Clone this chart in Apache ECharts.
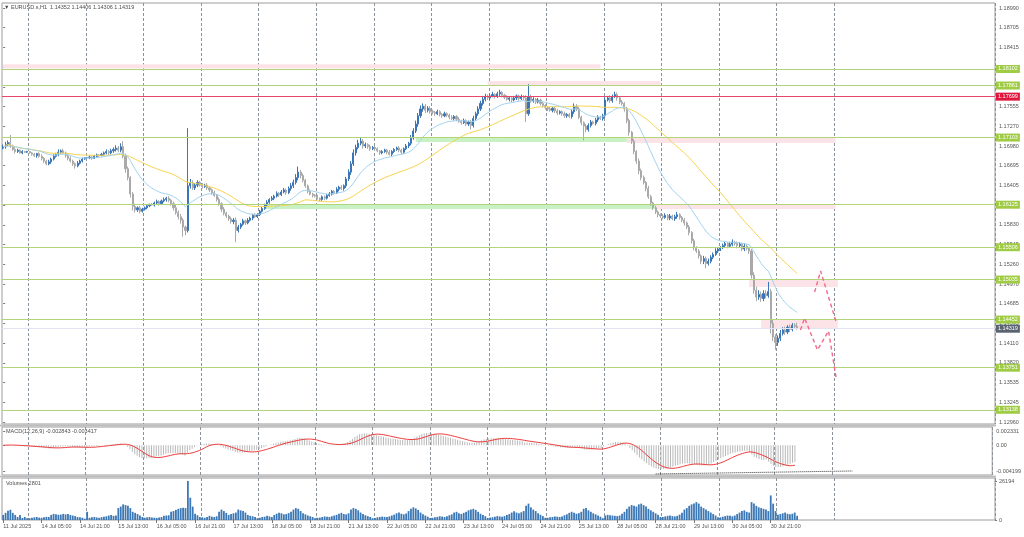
<!DOCTYPE html>
<html><head><meta charset="utf-8">
<script src="https://cdn.jsdelivr.net/npm/echarts@6/dist/echarts.min.js"></script>
<style>html,body{margin:0;padding:0;background:#fff}#c{width:1024px;height:537px}</style>
</head><body><div id="c"></div><script>
// EURUSD.s H1, 11 Jul 2025 13:00 .. 31 Jul 2025 08:00. Prices in pips above 1.10000 (697 -> 1.16970)
const firstOpenPips = 695;
const closePips = [
697,700,703,698,693,690,692,688,690,689,690,
688,686,684,687,683,680,676,672,675,679,683,686,689,691,688,684,680,676,672,669,673,676,679,681,
681,682,680,683,685,684,686,688,690,688,691,693,695,692,697,683,665,652,628,610,605,608,603,606,
608,611,613,612,615,617,614,618,620,622,619,614,608,601,595,590,580,575,640,644,637,641,645,641,
639,641,637,634,630,626,620,614,606,600,596,592,588,590,575,580,584,589,586,590,593,597,595,598,
603,607,612,616,620,622,625,629,627,631,634,630,636,640,645,652,660,655,648,640,632,628,626,625,
622,620,624,622,626,628,632,630,635,638,636,640,650,660,672,688,696,702,705,698,700,697,694,696,
694,691,688,690,692,689,686,690,693,695,692,689,694,698,702,710,720,730,742,752,756,750,753,748,
747,745,748,744,742,745,743,740,738,741,737,734,732,735,730,733,728,738,745,752,760,766,770,768,
771,773,770,774,776,772,769,766,768,765,768,771,767,770,768,745,770,764,766,762,765,760,757,754,
752,750,753,749,746,748,745,742,744,741,748,756,752,740,732,727,722,728,733,731,736,740,738,742,
765,768,764,770,773,768,762,760,752,735,718,705,690,676,662,652,645,636,624,615,608,602,598,596,
594,597,593,596,592,595,598,594,590,586,580,572,560,550,545,538,530,534,527,530,536,540,545,548,
550,553,556,552,555,558,556,553,555,548,552,549,545,510,488,478,482,476,483,480,486,440,420,412,
418,425,430,427,434,431,437,435.2,431.9];
// upper / lower wick length beyond the candle body, pips
const wickUp = [
3,4,3,11,2,3,2,1,2,1,1,
1,1,2,1,2,3,2,2,3,2,3,2,4,2,3,2,2,3,2,2,3,2,2,1,
1,2,1,2,2,1,2,2,3,2,3,3,4,3,5,8,4,3,2,3,4,2,3,2,
2,2,1,2,2,3,2,2,3,2,3,2,3,4,3,4,3,2,84,6,4,3,3,2,
3,2,3,2,2,3,2,3,2,3,2,2,3,3,4,3,2,3,2,3,2,2,3,2,
2,3,2,3,2,3,2,3,2,3,3,2,3,4,4,5,8,3,3,2,2,3,2,2,
2,1,2,2,2,3,2,2,3,2,3,2,3,4,4,5,4,5,6,3,3,2,3,2,
2,2,1,2,2,2,3,2,2,2,3,2,2,3,2,4,4,5,4,5,4,3,3,3,
3,2,3,2,2,3,2,2,3,2,2,3,2,3,2,2,3,4,3,4,4,5,4,3,
3,4,2,3,4,2,2,3,2,2,3,2,2,3,2,4,18,3,3,2,3,2,2,2,
2,3,2,2,3,2,2,3,2,2,3,4,3,3,2,2,3,3,3,2,3,3,2,3,
4,3,4,3,4,3,2,3,2,3,3,2,3,2,4,3,3,2,4,3,2,3,2,2,
3,3,2,3,2,3,4,2,2,3,2,3,2,3,2,3,2,4,3,4,3,3,4,3,
2,3,3,2,3,4,2,3,3,2,4,3,2,3,4,5,6,4,5,5,14,4,5,4,
4,5,4,5,3,4,3,3,5.4];
const wickDown = [
2,3,2,3,2,3,2,1,2,1,1,
1,2,2,3,2,3,3,2,2,3,2,2,3,2,2,3,3,2,3,4,2,2,2,1,
1,2,2,1,2,2,1,2,2,3,2,3,3,3,3,3,6,4,5,6,4,3,3,2,
2,2,2,1,2,2,3,2,2,3,3,3,4,3,4,5,14,7,3,4,3,3,3,2,
3,2,3,3,3,2,3,3,4,3,3,3,3,4,17,3,3,2,3,2,2,3,2,2,
2,2,2,3,2,2,3,2,3,2,2,3,2,3,3,3,4,4,3,3,3,2,3,2,
2,3,2,3,2,2,2,3,2,3,2,3,3,3,4,3,4,3,3,4,3,3,3,2,
3,2,3,2,2,3,2,3,2,2,3,3,2,2,3,3,3,3,4,3,4,4,3,3,
3,3,2,3,3,2,3,3,2,3,3,2,3,2,3,3,6,3,3,3,3,3,3,3,
3,2,3,2,3,3,3,2,3,3,2,3,3,2,3,12,3,3,3,3,2,3,3,3,
3,2,3,3,3,2,3,3,3,2,3,3,3,3,4,21,4,3,3,2,3,3,2,3,
3,2,3,3,2,4,3,3,4,4,5,4,4,4,5,4,3,4,3,4,3,3,4,3,
3,2,3,3,2,3,3,3,3,4,3,4,4,4,3,4,4,4,7,3,3,3,2,3,
3,2,3,3,2,3,3,4,3,3,3,3,4,5,5,6,4,5,4,4,3,15,6,11,
5,4,3,4,3,4,3,3,1.3];
const volumes = [
3400,4800,6200,6900,4800,3400,2000,3400,1400,2000,1200,
1200,1500,1800,2000,1600,1500,1800,2100,2000,3400,4100,3800,3500,3600,4100,3800,4000,3400,3000,2600,2000,1800,1500,900,
5500,1500,1800,2000,1700,1500,1900,2200,2500,3000,3400,2800,3000,8000,9000,10500,10000,9500,8000,5500,4800,4000,3000,2000,
1500,1800,2000,1600,1500,1400,1700,2000,2800,3000,3200,5500,6000,6800,7500,8000,8200,8000,26194,15000,9000,4200,3200,2000,
1800,1500,2000,2800,2200,2000,2500,5500,7000,6000,4800,3400,4000,4500,5000,7000,6500,6000,5000,3400,2800,2500,2000,1200,
1500,2000,2200,2800,2400,2000,3400,4200,4800,4500,3800,4000,4600,5500,7000,8000,7500,6000,4500,3800,3000,2500,2000,1200,
1500,1600,2000,2400,2200,2000,2500,3000,3500,4200,4800,4000,3800,4500,7000,8000,7500,6500,5000,4000,3200,2600,2000,1200,
1400,1800,2000,2300,2100,2000,2400,3000,3600,4500,5000,4200,3800,4400,6000,7500,8500,7800,6800,5000,3800,3000,2200,1300,
1500,1800,2100,2500,2300,2000,2500,3200,3800,5000,5500,4600,4000,4800,5500,6500,7000,7500,6800,5500,4200,3400,2500,1400,
1600,1900,2200,2600,2400,2200,2600,3400,4000,5000,5800,5000,4500,5200,6000,9500,11000,8500,7000,6000,4500,3500,2600,1500,
1500,1800,2000,2400,2200,2000,2400,3200,3800,4800,5500,4800,4200,4600,5500,7500,8000,6500,5500,4500,3800,3000,2200,1200,
3000,3500,3200,3000,2800,2600,3000,4200,5500,7500,9000,10000,9500,9000,10500,11000,10000,9000,7500,6500,5500,4500,3500,2000,
2000,2400,2800,3000,2600,2400,2800,3600,4800,7000,8000,9500,10500,11000,12000,11000,9000,8000,7000,6000,5000,4000,3000,1800,
1800,2200,2600,3000,2800,2500,3000,4000,5000,6000,6500,5500,5000,12000,11000,9500,8500,8000,7500,7000,6000,16500,11000,6000,
3500,4000,4500,5000,4200,3800,4200,5000,2801];
const priceTicks = [1.12960,1.13245,1.13535,1.13820,1.14110,1.14395,1.14685,1.14970,1.15260,1.15545,1.15830,1.16120,1.16405,1.16695,1.16980,1.17270,1.17555,1.17840,1.18130,1.18415,1.18705,1.18990];
const xTickLabels = ['11 Jul 2025','14 Jul 05:00','14 Jul 21:00','15 Jul 13:00','16 Jul 05:00','16 Jul 21:00','17 Jul 13:00','18 Jul 05:00','18 Jul 21:00','21 Jul 13:00','22 Jul 05:00','22 Jul 21:00','23 Jul 13:00','24 Jul 05:00','24 Jul 21:00','25 Jul 13:00','28 Jul 05:00','28 Jul 21:00','29 Jul 13:00','30 Jul 05:00','30 Jul 21:00'];
const greenLevels = [1.18102,1.17861,1.17103,1.16125,1.15506,1.15035,1.14452,1.13751,1.13138];
const redLevel = 1.17699;
const lastPrice = 1.14319;
const macdTicks = [-0.004199, 0, 0.002331];
const volumeTicks = [0, 26194];
// zones: [bar from, bar to, price low, price high, kind]
const zones = [
 [0,249,1.18110,1.18170,'p'],
 [202,274,1.17869,1.17927,'p'],
 [172,260,1.17039,1.17112,'g'],
 [260,347,1.17025,1.17112,'p'],
 [109,273,1.16063,1.16136,'g'],
 [272,347,1.16063,1.16136,'p'],
 [311,348,1.14927,1.15029,'p'],
 [316,348,1.14329,1.14446,'p']
];
const forecastLow = [[332.4,1.14300],[334.1,1.14475],[339.5,1.14009],[344.1,1.14286],[347.4,1.13572]];
const forecastHigh = [[338.3,1.14854],[340.8,1.15160],[347.4,1.14402]];
const macdTrendLine = [[272.8,-0.00468],[355,-0.00420]];

const FONT = 'Liberation Sans, Arial, sans-serif';
const N = closePips.length;
const NSLOT = 414;
const px = p => 1.1 + p / 10000;
const cats = Array.from({length: NSLOT}, (_, i) => String(i));
const candles = [], closes = [];
for (let i = 0; i < N; i++) {
  const o = i ? closePips[i - 1] : firstOpenPips, c = closePips[i];
  const h = Math.max(o, c) + wickUp[i], l = Math.min(o, c) - wickDown[i];
  candles.push([px(o), px(c), px(l), px(h)]);
  closes.push(px(c));
}
function ema(src, n) { const k = 2 / (n + 1); const out = []; let e = src[0]; src.forEach((v, i) => { e = i ? e + k * (v - e) : v; out.push(e); }); return out; }
function sma(src, n) { const out = []; let s = 0; src.forEach((v, i) => { s += v; if (i >= n) s -= src[i - n]; out.push(s / Math.min(i + 1, n)); }); return out; }
const maFast = ema(closes, 20), maSlow = sma(closes, 50);
const e12 = ema(closes, 12), e26 = ema(closes, 26);
const macd = e12.map((v, i) => v - e26[i]);
const signal = sma(macd, 9);

const vSplit = (idx) => idx >= 11 && idx <= 347 && (idx - 11) % 24 === 0;
const lblInt = (i) => i % 16 === 0 && i <= 320;
function catAxis(gi, labels) {
  return {type: 'category', gridIndex: gi, data: cats, boundaryGap: true,
    axisLine: {show: false},
    axisTick: {show: labels, interval: lblInt, alignWithLabel: true, length: 3, lineStyle: {color: '#777'}},
    axisLabel: {show: labels, interval: lblInt, formatter: (v, i) => xTickLabels[i / 16], align: 'left', fontSize: 5.5, color: '#555', fontFamily: FONT, margin: 3},
    splitLine: {show: true, interval: vSplit, lineStyle: {color: '#8d939a', type: [3, 2], width: 1}}};
}
function valAxisX(gi) { return {type: 'value', gridIndex: gi, min: -0.5, max: NSLOT - 0.5, show: false}; }
function yAx(gi, min, max, ticks, fmt) {
  return {type: 'value', gridIndex: gi, position: 'right', min, max, scale: true,
    axisLine: {show: false}, splitLine: {show: false},
    axisTick: {show: true, length: 2, customValues: ticks, lineStyle: {color: '#777'}},
    axisLabel: {show: true, customValues: ticks, formatter: fmt, fontSize: 5.5, color: '#555', fontFamily: FONT, margin: 4}};
}
const gridBase = {show: true, borderColor: '#9c9c9c', borderWidth: 1, backgroundColor: '#fff'};
const tagLabel = (bg) => ({show: true, position: 'end', distance: 1, color: '#fff', fontSize: 5.5, fontFamily: FONT, backgroundColor: bg, padding: [1, 2, 1, 2], formatter: (p) => Number(p.value).toFixed(5)});
const levelLines = greenLevels.map(v => ({yAxis: v, lineStyle: {color: '#b2d57a', width: 1, type: 'solid'}, label: tagLabel('#9fcc44')}));
levelLines.push({yAxis: redLevel, lineStyle: {color: '#e8466a', width: 1, type: 'solid'}, label: tagLabel('#e0163d')});
levelLines.push({yAxis: lastPrice, lineStyle: {color: '#e2e2f2', width: 1, type: 'solid'}, label: tagLabel('#5a6370')});
const zoneColor = {p: '#fce3e8', g: '#c9f2c4'};
const zoneData = zones.map(z => [{xAxis: z[0], yAxis: z[2], itemStyle: {color: zoneColor[z[4]]}}, {xAxis: z[1], yAxis: z[3]}]);

const option = {
  animation: false,
  backgroundColor: '#fff',
  grid: [
    Object.assign({left: 2, top: 3, width: 993, height: 421}, gridBase),
    Object.assign({left: 2, top: 427, width: 993, height: 48}, gridBase),
    Object.assign({left: 2, top: 478, width: 993, height: 42}, gridBase)
  ],
  xAxis: [catAxis(0, false), valAxisX(0), catAxis(1, false), valAxisX(1), catAxis(2, true)],
  yAxis: [
    yAx(0, 1.12931, 1.19063, priceTicks, v => v.toFixed(5)),
    yAx(1, -0.004852, 0.002984, macdTicks, v => v === 0 ? '0.00' : v.toFixed(6)),
    yAx(2, 0, 28209, volumeTicks, v => String(v))
  ],
  series: [
    {type: 'line', name: 'zones', xAxisIndex: 1, yAxisIndex: 0, data: [], z: 1, silent: true,
      markArea: {silent: true, precision: 6, data: zoneData}},
    {type: 'candlestick', xAxisIndex: 0, yAxisIndex: 0, data: candles, barWidth: 1.6, z: 3,
      itemStyle: {color: '#3a76b7', color0: '#a9a9a9', borderColor: '#3a76b7', borderColor0: '#a9a9a9', borderWidth: 1}},
    {type: 'line', xAxisIndex: 0, yAxisIndex: 0, data: maSlow, showSymbol: false, symbol: 'none', z: 4, lineStyle: {color: '#f6d34e', width: 1}},
    {type: 'line', xAxisIndex: 0, yAxisIndex: 0, data: maFast, showSymbol: false, symbol: 'none', z: 4, lineStyle: {color: '#a2d3ef', width: 1}},
    {type: 'line', name: 'levels', xAxisIndex: 1, yAxisIndex: 0, data: [], z: 2, clip: false, silent: true,
      markLine: {silent: true, precision: 5, symbol: ['none', 'none'], data: levelLines}},
    {type: 'line', xAxisIndex: 1, yAxisIndex: 0, data: forecastLow, symbol: 'none', z: 5, lineStyle: {color: '#f2698b', width: 1.4, type: [4, 3]}},
    {type: 'line', xAxisIndex: 1, yAxisIndex: 0, data: forecastHigh, symbol: 'none', z: 5, lineStyle: {color: '#f2698b', width: 1.4, type: [4, 3]}},
    {type: 'bar', xAxisIndex: 2, yAxisIndex: 1, data: macd, barWidth: 1, itemStyle: {color: '#b9b9b9'}, z: 2},
    {type: 'line', xAxisIndex: 2, yAxisIndex: 1, data: signal, symbol: 'none', z: 3, lineStyle: {color: '#ef3b3b', width: 1}},
    {type: 'line', xAxisIndex: 3, yAxisIndex: 1, data: macdTrendLine, symbol: 'none', z: 4, lineStyle: {color: '#333', width: 1, type: [1, 1]}},
    {type: 'bar', xAxisIndex: 4, yAxisIndex: 2, data: volumes, barWidth: 1.8, itemStyle: {color: '#3b78b5'}, z: 2}
  ],
  graphic: [
    {type: 'rect', shape: {x: 0, y: 424.5, width: 996, height: 2}, style: {fill: '#bdbdbd'}, silent: true},
    {type: 'rect', shape: {x: 0, y: 475.5, width: 996, height: 2}, style: {fill: '#bdbdbd'}, silent: true},
    {type: 'text', x: 4, y: 7, style: {text: '\u25BC EURUSD.s,H1  1.14352 1.14406 1.14306 1.14319', font: '5.5px ' + FONT, fill: '#4d4d4d', verticalAlign: 'middle'}},
    {type: 'text', x: 6, y: 431, style: {text: 'MACD(12,26,9) -0.002843 -0.003417', font: '5.5px ' + FONT, fill: '#4d4d4d', verticalAlign: 'middle'}},
    {type: 'text', x: 6, y: 483, style: {text: 'Volumes 2801', font: '5.5px ' + FONT, fill: '#4d4d4d', verticalAlign: 'middle'}}
  ]
};
const chart = echarts.init(document.getElementById('c'), null, {renderer: 'canvas', width: 1024, height: 537});
chart.setOption(option);
</script></body></html>
